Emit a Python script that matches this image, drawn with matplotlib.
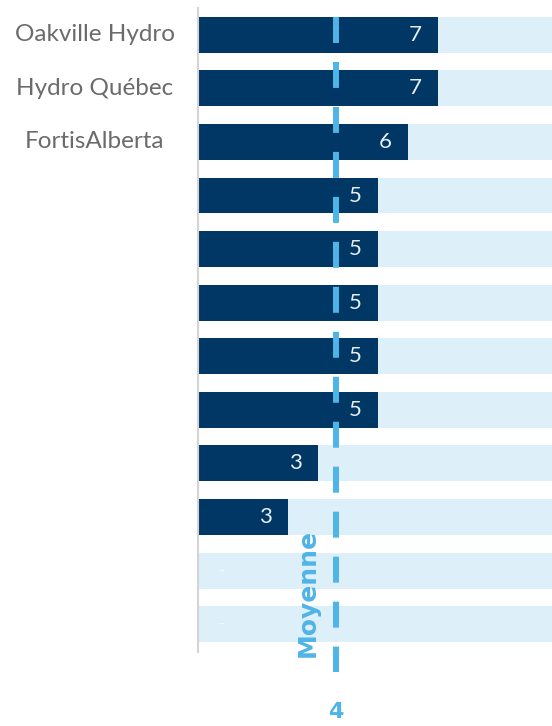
import matplotlib.pyplot as plt

plt.switch_backend('Agg')
plt.rcParams['font.family'] = ['Lato', 'DejaVu Sans']

# données
categories = ['Oakville Hydro', 'Hydro Québec', 'FortisAlberta',
              '', '', '', '', '', '', '', '', '']
valeurs = [6.78, 6.78, 5.93, 5.08, 5.08, 5.08, 5.08, 5.08, 3.39, 2.54, 0, 0]
etiquettes = ['7', '7', '6', '5', '5', '5', '5', '5', '3', '3', '-', '-']
moyenne = 3.9
x_max = 10

BLEU_FONCE = '#003764'
BLEU_CLAIR = '#ddeff9'
BLEU_LIGNE = '#4fb4e8'

fig = plt.figure(figsize=(5.52, 7.26), dpi=100)
ax = fig.add_axes([198 / 552, 74 / 726, 1 - 198 / 552, 644 / 726])

y = list(range(len(categories)))
ax.barh(y, [x_max] * len(y), height=0.67, color=BLEU_CLAIR, zorder=1)
ax.barh(y, valeurs, height=0.67, color=BLEU_FONCE, zorder=2)

# ligne de la moyenne
ax.plot([moyenne, moyenne], [-0.34, 11.9], color=BLEU_LIGNE, lw=4.3,
        linestyle=(0, (4.35, 3.18)), solid_capstyle='butt',
        dash_capstyle='butt', zorder=3, clip_on=False)

for i, (v, lab) in enumerate(zip(valeurs, etiquettes)):
    if lab == '-':
        ax.text(0.68, i, lab, color='#f4f9fd', fontsize=12,
                ha='center', va='center', zorder=4)
    else:
        ax.text(v - 0.45, i, lab, color='#e6edf3', fontsize=16,
                ha='right', va='center', zorder=4)

ax.text(3.1, 10.42, 'Moyenne', rotation=90, color=BLEU_LIGNE,
        fontsize=18, fontweight='bold', family='DejaVu Sans',
        ha='center', va='center', clip_on=False)
ax.text(moyenne, 12.64, '4', color=BLEU_LIGNE, fontsize=16,
        fontweight='bold', family='DejaVu Sans',
        ha='center', va='center', clip_on=False)

# noms des distributeurs, centrés à gauche
for i, c in enumerate(categories):
    if c:
        ax.text(-2.91, i, c, color='#6b6b6b', fontsize=17.5,
                ha='center', va='center', clip_on=False)

ax.set_xlim(0, x_max)
ax.set_ylim(11.52, -0.5)
ax.set_xticks([])
ax.set_yticks([])
for s in ['top', 'right', 'bottom']:
    ax.spines[s].set_visible(False)
ax.spines['left'].set_color('#d4d4d4')
ax.spines['left'].set_linewidth(1.5)

fig.savefig('out.png', dpi=100)
plt.close()
